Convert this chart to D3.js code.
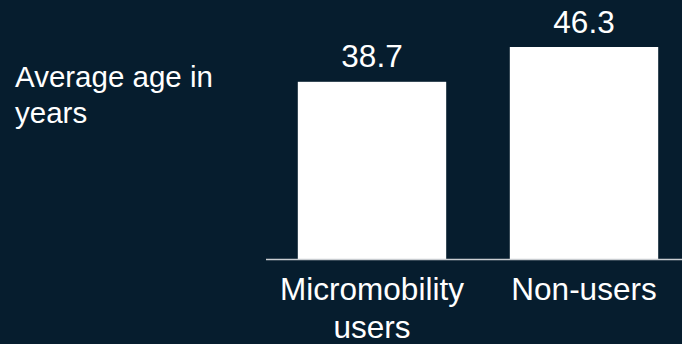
<!DOCTYPE html>
<html>
<head>
<meta charset="utf-8">
<script src="https://cdn.jsdelivr.net/npm/d3@7"></script>
<style>
  html, body { margin: 0; padding: 0; background: #061d2e; }
  svg { display: block; }
  text { font-family: "Liberation Sans", Arial, sans-serif; fill: #ffffff; }
</style>
</head>
<body>
<svg id="chart" width="682" height="344"></svg>
<script>
// Average age by group
const categories = ["Micromobility users", "Non-users"];
const categoryLines = [["Micromobility", "users"], ["Non-users"]];
const values = [38.7, 46.3];
const valueLabels = ["38.7", "46.3"];
const titleLines = ["Average age in", "years"];

const width = 682, height = 344;
const baseY = 259;
const svg = d3.select("#chart");

svg.append("rect")
  .attr("width", width).attr("height", height)
  .attr("fill", "#061d2e");

const x = d3.scaleBand()
  .domain(categories)
  .range([266, 690])
  .paddingInner(0.3)
  .paddingOuter(0.15);

const y = d3.scaleLinear()
  .domain([0, 46.3])
  .range([baseY, 47]);

const fontSize = 31.5;

// axis title at upper left
const title = svg.append("text")
  .attr("x", 15)
  .attr("y", 87)
  .style("font-size", "29.5px");
title.selectAll("tspan")
  .data(titleLines)
  .join("tspan")
  .attr("x", 15)
  .attr("dy", (d, i) => i === 0 ? 0 : 36)
  .text(d => d);

// bars
svg.selectAll("rect.bar")
  .data(values)
  .join("rect")
  .attr("class", "bar")
  .attr("x", (d, i) => x(categories[i]))
  .attr("width", x.bandwidth())
  .attr("y", d => y(d))
  .attr("height", d => baseY - y(d))
  .attr("fill", "#ffffff");

// value labels
svg.selectAll("text.value")
  .data(values)
  .join("text")
  .attr("class", "value")
  .attr("x", (d, i) => x(categories[i]) + x.bandwidth() / 2)
  .attr("y", d => y(d) - 14.5)
  .attr("text-anchor", "middle")
  .style("font-size", fontSize + "px")
  .text((d, i) => valueLabels[i]);

// baseline
svg.append("line")
  .attr("x1", 266).attr("x2", width)
  .attr("y1", baseY + 0.5).attr("y2", baseY + 0.5)
  .attr("stroke", "#c9cdd1")
  .attr("stroke-width", 1.5);

// category labels
const cats = svg.selectAll("text.cat")
  .data(categories)
  .join("text")
  .attr("class", "cat")
  .attr("text-anchor", "middle")
  .attr("y", 299.5)
  .style("font-size", fontSize + "px");
cats.selectAll("tspan")
  .data((d, i) => categoryLines[i].map(t => ({ t, c: d })))
  .join("tspan")
  .attr("x", d => x(d.c) + x.bandwidth() / 2)
  .attr("dy", (d, i) => i === 0 ? 0 : 38.5)
  .text(d => d.t);
</script>
</body>
</html>
